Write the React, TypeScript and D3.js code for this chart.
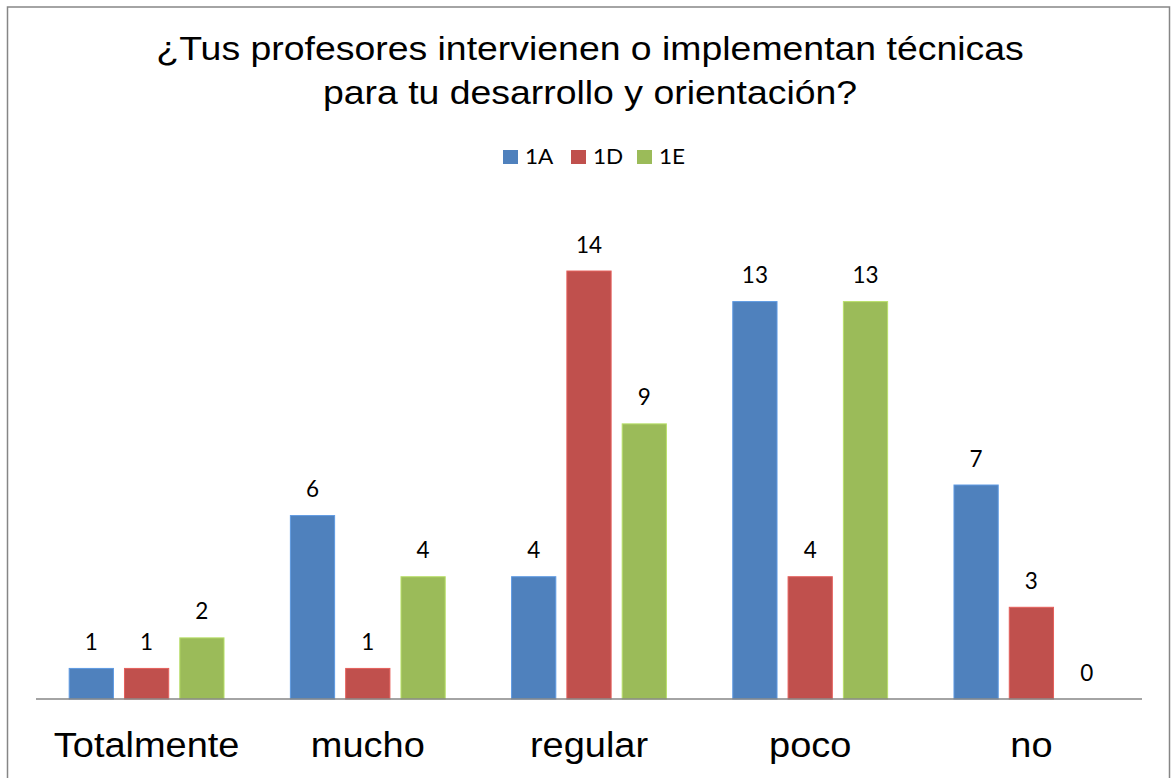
import React from "react";
import * as d3 from "d3";

const categories = ["Totalmente", "mucho", "regular", "poco", "no"];
const seriesNames = ["1A", "1D", "1E"];
const values1A = [1, 6, 4, 13, 7];
const values1D = [1, 1, 14, 4, 3];
const values1E = [2, 4, 9, 13, 0];
const seriesColors = ["#4F81BD", "#C0504D", "#9BBB59"];
const titleLines = [
  "¿Tus profesores intervienen o implementan técnicas",
  "para tu desarrollo y orientación?",
];
const yMax = 16;

const W = 1171;
const H = 778;

export default function App() {
  const seriesValues = [values1A, values1D, values1E];
  const plotLeft = 36;
  const plotRight = 1142;
  const baseY = 699;
  const topY = 699 - 16 * 30.57;

  const x0 = d3.scaleBand<string>().domain(categories).range([plotLeft, plotRight]).padding(0);
  const bw = x0.bandwidth();
  const w = bw / 5;
  const x1 = d3
    .scaleBand<string>()
    .domain(seriesNames)
    .range([0.75 * w, bw - 0.75 * w])
    .paddingInner(0.2)
    .paddingOuter(0);
  const y = d3.scaleLinear().domain([0, yMax]).range([baseY, topY]);

  const sx = 1.1;
  const titleFont = "'Liberation Sans', Arial, sans-serif";
  const labelFont = "Lato, 'Open Sans', sans-serif";

  const legendX = [503, 571, 637];

  return (
    <svg
      width={W}
      height={H}
      style={{ position: "absolute", left: 0, top: 0, background: "#fff" }}
    >
      <rect x={0} y={0} width={W} height={H} fill="#fff" />
      <rect
        x={7.5}
        y={7}
        width={1162}
        height={H + 20}
        fill="#fff"
        stroke="#868686"
        strokeWidth={1.5}
      />
      {titleLines.map((t, i) => (
        <text
          key={i}
          transform={`translate(590,${60 + i * 44}) scale(${sx},1)`}
          textAnchor="middle"
          fontFamily={titleFont}
          fontSize={34}
          fill="#000"
        >
          {t}
        </text>
      ))}
      {seriesNames.map((s, i) => (
        <g key={s}>
          <rect x={legendX[i]} y={150} width={15} height={14} fill={seriesColors[i]} />
          <text
            transform={`translate(${legendX[i] + 22},164) scale(${sx},1)`}
            fontFamily={labelFont}
            fontSize={20.5}
            fill="#000"
          >
            {s}
          </text>
        </g>
      ))}
      {categories.map((c, ci) => (
        <g key={c} transform={`translate(${x0(c)},0)`}>
          {seriesNames.map((s, si) => {
            const v = seriesValues[si][ci];
            const bx = x1(s) as number;
            const col = seriesColors[si];
            const stroke = d3.color(col)!.brighter(0.5).formatHex();
            return (
              <g key={s}>
                {v > 0 && (
                  <rect
                    x={bx}
                    y={y(v)}
                    width={x1.bandwidth()}
                    height={baseY - y(v)}
                    fill={col}
                    stroke={stroke}
                    strokeWidth={1}
                  />
                )}
                <text
                  x={bx + x1.bandwidth() / 2}
                  y={y(v) - 18.5}
                  textAnchor="middle"
                  fontFamily={labelFont}
                  fontSize={22.5}
                  fill="#000"
                >
                  {v}
                </text>
              </g>
            );
          })}
          <text
            transform={`translate(${bw / 2},756.5) scale(${sx},1)`}
            textAnchor="middle"
            fontFamily={titleFont}
            fontSize={34.5}
            fill="#000"
          >
            {c}
          </text>
        </g>
      ))}
      <line x1={plotLeft} x2={plotRight} y1={baseY} y2={baseY} stroke="#868686" strokeWidth={1.5} />
    </svg>
  );
}
